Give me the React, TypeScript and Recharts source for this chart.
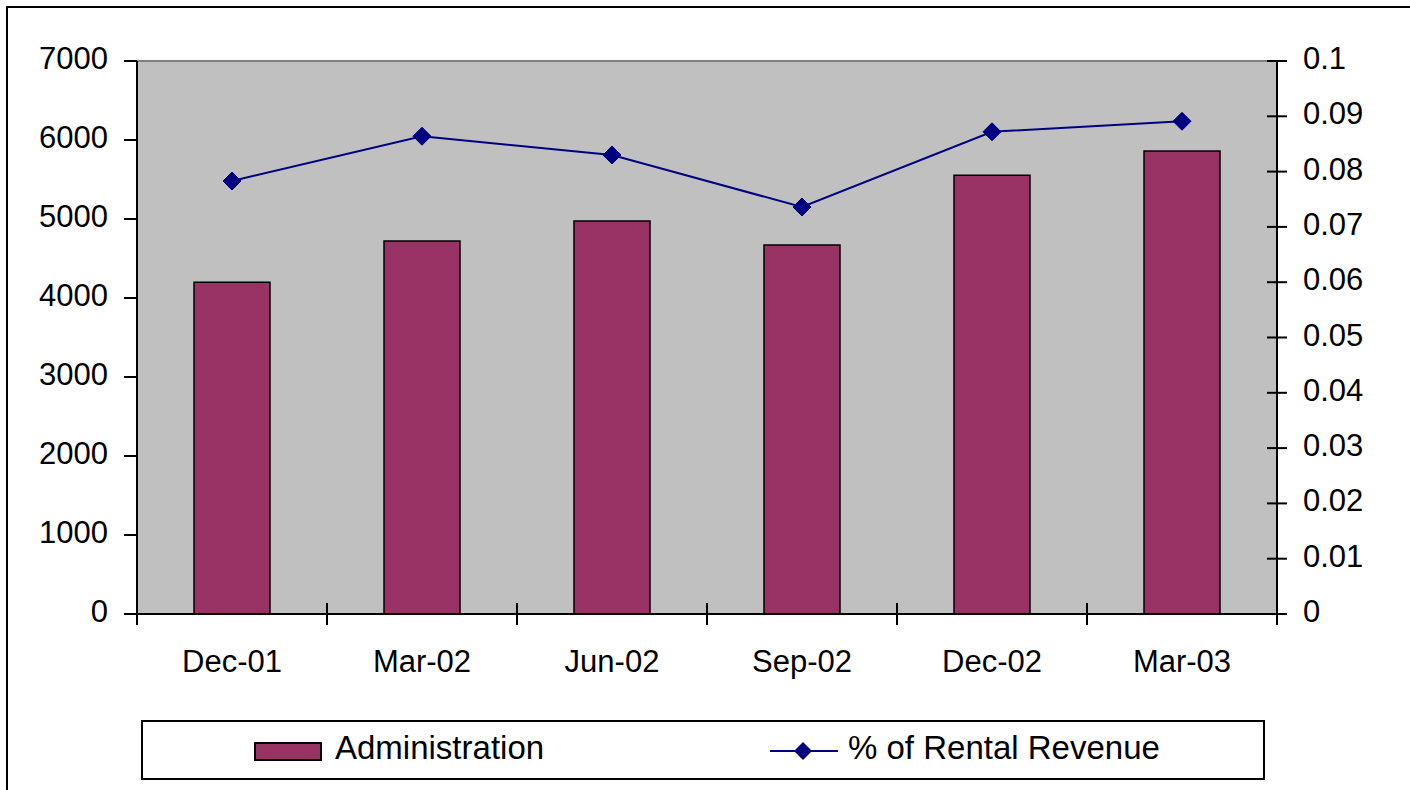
import {
  ComposedChart,
  Bar,
  Line,
  XAxis,
  YAxis,
  CartesianGrid,
  ReferenceLine,
  Legend,
} from 'recharts';

const categories = ['Dec-01', 'Mar-02', 'Jun-02', 'Sep-02', 'Dec-02', 'Mar-03'];
const administration = [4200, 4720, 4975, 4670, 5555, 5860];
const rentalPct = [0.0783, 0.0864, 0.083, 0.0736, 0.0872, 0.0891];
const leftTicks = [0, 1000, 2000, 3000, 4000, 5000, 6000, 7000];
const rightTicks = [0, 0.01, 0.02, 0.03, 0.04, 0.05, 0.06, 0.07, 0.08, 0.09, 0.1];

const data = categories.map((c, i) => ({
  month: c,
  admin: administration[i],
  pct: rentalPct[i],
}));

const FONT = '"Liberation Sans", Arial, sans-serif';
const BAR = '#993366';
const LINE = '#000080';
const TICK_FS = 31;
const HALF_BAND = 95;

const Diamond = ({ cx, cy }: any) => {
  if (cx == null || cy == null) return null;
  const r = 9;
  return (
    <polygon
      points={`${cx},${cy - r} ${cx + r},${cy} ${cx},${cy + r} ${cx - r},${cy}`}
      fill={LINE}
      stroke={LINE}
    />
  );
};

// category labels plus Excel-style cross ticks between categories
const CatTick = (props: any) => {
  const { x, y, payload, index, visibleTicksCount } = props;
  const axisY = y - 37;
  const left = x - HALF_BAND;
  const right = x + HALF_BAND;
  return (
    <g>
      <line x1={left} x2={left} y1={index === 0 ? axisY : axisY - 11} y2={axisY + 11} stroke="#000" strokeWidth={2} />
      {index === visibleTicksCount - 1 && (
        <line x1={right} x2={right} y1={axisY} y2={axisY + 11} stroke="#000" strokeWidth={2} />
      )}
      <text x={x} y={axisY + 58} textAnchor="middle" fontSize={TICK_FS} fontFamily={FONT} fill="#000">
        {payload.value}
      </text>
    </g>
  );
};

const RightTick = (props: any) => {
  const { x, y, payload } = props;
  const axisX = x - 26;
  return (
    <g>
      <line x1={axisX - 10} x2={axisX + 10} y1={y} y2={y} stroke="#000" strokeWidth={2} />
      <text x={axisX + 26} y={y + 8} textAnchor="start" fontSize={TICK_FS} fontFamily={FONT} fill="#000">
        {payload.value}
      </text>
    </g>
  );
};

const LegendBox = () => (
  <div
    style={{
      position: 'relative',
      width: 1124,
      height: 60,
      border: '2px solid #000',
      boxSizing: 'border-box',
      background: '#fff',
      fontFamily: FONT,
      fontSize: 33,
      color: '#000',
    }}
  >
    <div
      style={{
        position: 'absolute',
        left: 111,
        top: 20,
        width: 68,
        height: 19,
        background: BAR,
        border: '2px solid #000',
        boxSizing: 'border-box',
      }}
    />
    <div style={{ position: 'absolute', left: 192, top: 6, lineHeight: '40px' }}>Administration</div>
    <svg style={{ position: 'absolute', left: 627, top: 18 }} width={70} height={22}>
      <line x1={0} x2={68} y1={11} y2={11} stroke={LINE} strokeWidth={2} />
      <polygon points="33,2 42,11 33,20 24,11" fill={LINE} />
    </svg>
    <div style={{ position: 'absolute', left: 705, top: 6, lineHeight: '40px' }}>% of Rental Revenue</div>
  </div>
);

export default function App() {
  return (
    <div
      style={{
        position: 'absolute',
        left: 6,
        top: 6,
        borderLeft: '2px solid #000',
        borderTop: '2px solid #000',
        width: 1404,
        height: 784,
        overflow: 'hidden',
      }}
    >
      <ComposedChart
        width={1402}
        height={782}
        data={data}
        margin={{ top: 53, right: 23, bottom: 116, left: 19 }}
      >
        <CartesianGrid fill="#C0C0C0" horizontal={false} vertical={false} yAxisId="left" />
        <XAxis
          dataKey="month"
          height={60}
          axisLine={{ stroke: '#000', strokeWidth: 2 }}
          tickLine={false}
          tickSize={0}
          tickMargin={37}
          tick={(p: any) => <CatTick {...p} />}
          interval={0}
        />
        <YAxis
          yAxisId="left"
          width={110}
          domain={[0, 7000]}
          ticks={leftTicks}
          interval={0}
          axisLine={{ stroke: '#000', strokeWidth: 2 }}
          tickLine={{ stroke: '#000', strokeWidth: 2 }}
          tickSize={13}
          tickMargin={16}
          tick={{ fontSize: TICK_FS, fontFamily: FONT, fill: '#000', dy: -3 }}
        />
        <YAxis
          yAxisId="right"
          orientation="right"
          width={110}
          domain={[0, 0.1]}
          ticks={rightTicks}
          interval={0}
          axisLine={{ stroke: '#000', strokeWidth: 2 }}
          tickLine={false}
          tickSize={10}
          tickMargin={16}
          tick={(p: any) => <RightTick {...p} />}
        />
        <ReferenceLine yAxisId="left" y={7000} stroke="#808080" strokeWidth={2} />
        <Bar
          yAxisId="left"
          dataKey="admin"
          name="Administration"
          fill={BAR}
          stroke="#000"
          strokeWidth={1.5}
          barSize={76}
          isAnimationActive={false}
        />
        <Line
          yAxisId="right"
          dataKey="pct"
          name="% of Rental Revenue"
          stroke={LINE}
          strokeWidth={2}
          dot={(p: any) => <Diamond key={p.index} {...p} />}
          activeDot={false}
          isAnimationActive={false}
        />
        <Legend
          layout="vertical"
          align="center"
          verticalAlign="middle"
          wrapperStyle={{ left: 133, top: 712, width: 1124, height: 60 }}
          content={() => <LegendBox />}
        />
      </ComposedChart>
    </div>
  );
}
